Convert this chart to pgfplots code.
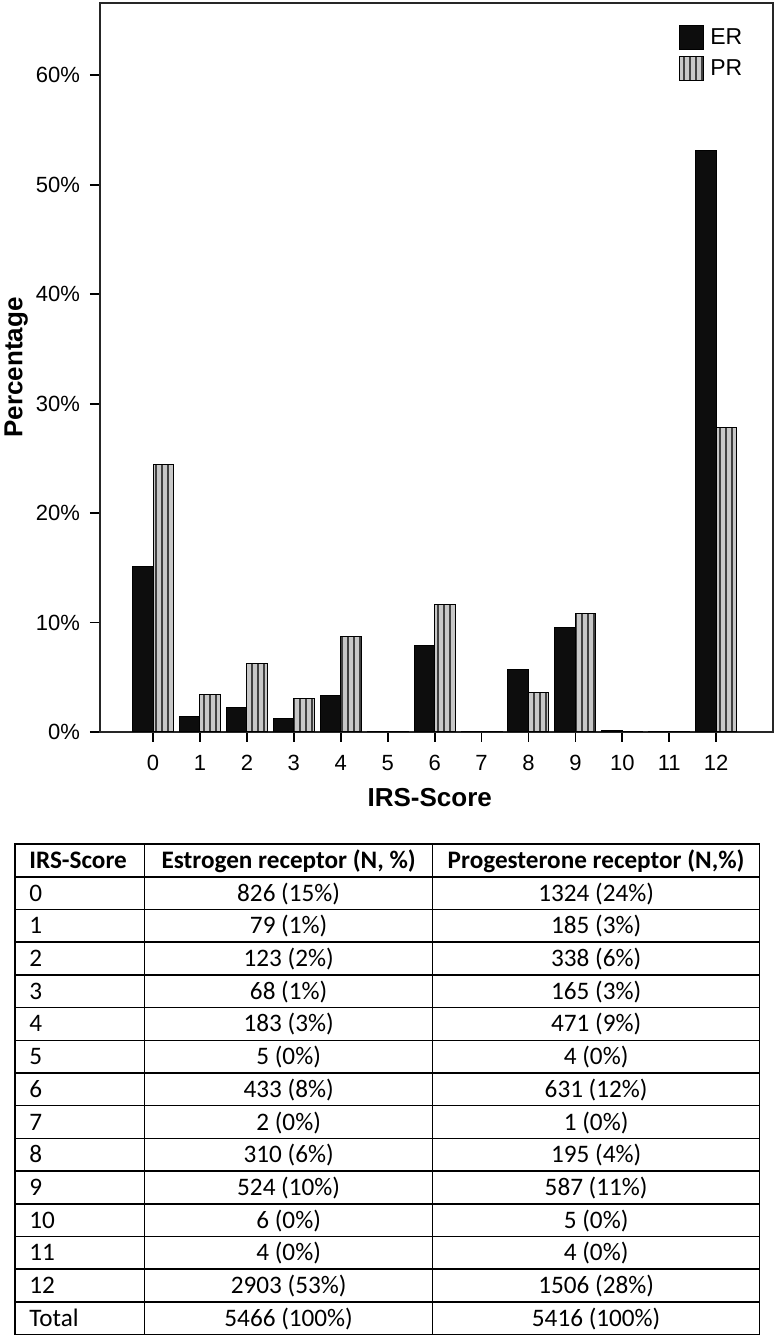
\documentclass[border=0pt]{standalone}
\usepackage{fontspec}
\setmainfont{Liberation Sans}
\newfontfamily\carlito{Carlito}
\usepackage{array}
\usepackage{pgfplots}
\pgfplotsset{compat=1.18}
\usetikzlibrary{patterns.meta}

\newcommand{\rs}{\rule[-3.8pt]{0pt}{15.6pt}}

\begin{document}
\begin{tikzpicture}
\useasboundingbox (0pt,0pt) rectangle (388pt,668.5pt);
\begin{axis}[
    at={(50pt,302.5pt)}, anchor=south west,
    scale only axis,
    width=336.5pt, height=364.5pt,
    xmin=-1.13, xmax=13.21,
    ymin=0, ymax=66.6,
    ybar=0pt, bar width=10.25pt,
    xtick={0,...,12},
    ytick={0,10,...,60},
    yticklabel={\pgfmathprintnumber{\tick}\%},
    /pgf/number format/assume math mode=true,
    tick align=outside,
    xtick pos=bottom, ytick pos=left,
    major tick length=5pt,
    tick style={black, line width=0.9pt},
    axis line style={black!85, line width=0.9pt},
    ticklabel style={font=\fontsize{11}{13}\selectfont},
    xticklabel style={yshift=-3pt},
    yticklabel style={xshift=-1.5pt},
    xlabel={IRS-Score},
    ylabel={Percentage},
    label style={font=\bfseries\fontsize{13}{15}\selectfont},
    xlabel style={at={(axis description cs:0.49,-0.0768)}, anchor=north, inner sep=0pt},
    ylabel style={at={(axis description cs:-0.1426,0.5)}, anchor=north, inner sep=0pt, rotate=0},
    legend style={draw=none, fill=none, at={(axis description cs:0.8603,0.9698)}, anchor=north west,
        inner sep=0pt, row sep=3pt, font=\fontsize{11.5}{13}\selectfont,
        nodes={inner sep=1pt},
        /tikz/every odd column/.append style={column sep=2pt}},
    legend cell align=left,
    legend image code/.code={\draw[#1] (0pt,-6pt) rectangle (12pt,6pt);},
]
\addplot[draw=black, line width=0.5pt, fill=black!95] coordinates {
  (0,15.11) (1,1.45) (2,2.25) (3,1.24) (4,3.35) (5,0.09) (6,7.92)
  (7,0.04) (8,5.67) (9,9.59) (10,0.11) (11,0.07) (12,53.11)
};
\addplot[draw=black, line width=0.5pt, fill=black!22,
  postaction={pattern={Lines[angle=90,distance=3pt,line width=1pt]}, pattern color=black!75}] coordinates {
  (0,24.45) (1,3.42) (2,6.24) (3,3.05) (4,8.70) (5,0.07) (6,11.65)
  (7,0.02) (8,3.60) (9,10.84) (10,0.09) (11,0.07) (12,27.81)
};
\legend{ER, PR}
\end{axis}
\node[anchor=north west, inner sep=0pt, font=\carlito\fontsize{12.6}{12}\selectfont] at (7pt,247pt) {%
\setlength{\tabcolsep}{0pt}\setlength{\arrayrulewidth}{0.75pt}%
\begin{tabular}{|>{\rs\hspace{6.75pt}}p{64pt}|>{\centering\arraybackslash}p{143.25pt}|>{\centering\arraybackslash}p{162.75pt}|}
\hline
\textbf{IRS-Score} & \textbf{Estrogen receptor (N, \%)} & \textbf{Progesterone receptor (N,\%)} \\ \hline
0 & 826 (15\%) & 1324 (24\%) \\ \hline
1 & 79 (1\%) & 185 (3\%) \\ \hline
2 & 123 (2\%) & 338 (6\%) \\ \hline
3 & 68 (1\%) & 165 (3\%) \\ \hline
4 & 183 (3\%) & 471 (9\%) \\ \hline
5 & 5 (0\%) & 4 (0\%) \\ \hline
6 & 433 (8\%) & 631 (12\%) \\ \hline
7 & 2 (0\%) & 1 (0\%) \\ \hline
8 & 310 (6\%) & 195 (4\%) \\ \hline
9 & 524 (10\%) & 587 (11\%) \\ \hline
10 & 6 (0\%) & 5 (0\%) \\ \hline
11 & 4 (0\%) & 4 (0\%) \\ \hline
12 & 2903 (53\%) & 1506 (28\%) \\ \hline
Total & 5466 (100\%) & 5416 (100\%) \\ \hline
\end{tabular}};
\end{tikzpicture}
\end{document}
